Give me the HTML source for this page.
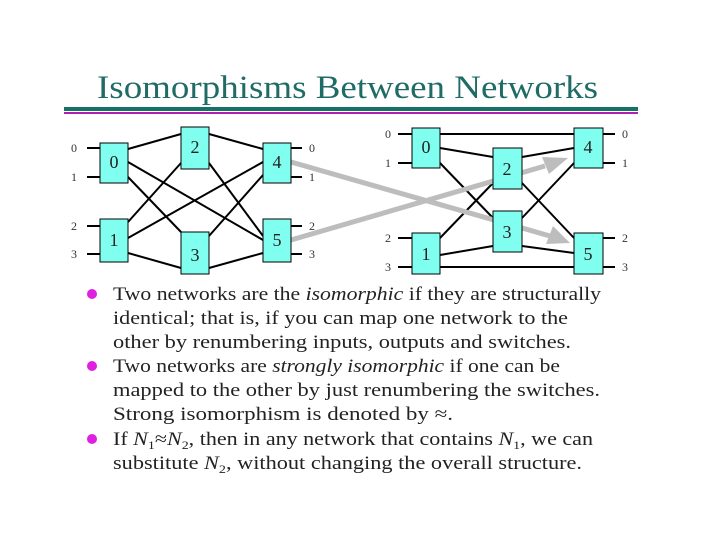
<!DOCTYPE html>
<html><head><style>html,body{margin:0;padding:0;background:#fff;}svg{display:block}</style></head>
<body>
<svg width="720" height="540" viewBox="0 0 720 540" xmlns="http://www.w3.org/2000/svg" font-family="Liberation Serif, serif">
<text x="97" y="98" font-size="33" fill="#1f6b66" textLength="501" lengthAdjust="spacingAndGlyphs">Isomorphisms Between Networks</text>
<rect x="64" y="107" width="574" height="4" fill="#16706c"/>
<rect x="64" y="112" width="574" height="2" fill="#b020b0"/>
<g stroke="#000" stroke-width="2" fill="none">
<!-- left network -->
<line x1="87" y1="148" x2="100" y2="148"/><line x1="87" y1="177" x2="100" y2="177"/>
<line x1="87" y1="226" x2="100" y2="226"/><line x1="87" y1="254" x2="100" y2="254"/>
<line x1="291" y1="148" x2="302" y2="148"/><line x1="291" y1="177" x2="302" y2="177"/>
<line x1="291" y1="226" x2="302" y2="226"/><line x1="291" y1="254" x2="302" y2="254"/>
<line x1="128" y1="149" x2="181" y2="134"/>
<line x1="128" y1="162" x2="263" y2="240"/>
<line x1="128" y1="177" x2="181" y2="232"/>
<line x1="128" y1="222" x2="181" y2="163"/>
<line x1="128" y1="238" x2="263" y2="162"/>
<line x1="128" y1="253" x2="181" y2="268"/>
<line x1="209" y1="134" x2="263" y2="149"/>
<line x1="209" y1="163" x2="263" y2="236"/>
<line x1="209" y1="236" x2="263" y2="175"/>
<line x1="209" y1="268" x2="263" y2="253"/>
<!-- right network -->
<line x1="398" y1="134" x2="412" y2="134"/><line x1="398" y1="163" x2="412" y2="163"/>
<line x1="398" y1="238" x2="412" y2="238"/><line x1="398" y1="267" x2="412" y2="267"/>
<line x1="603" y1="134" x2="615" y2="134"/><line x1="603" y1="163" x2="615" y2="163"/>
<line x1="603" y1="238" x2="615" y2="238"/><line x1="603" y1="267" x2="615" y2="267"/>
<line x1="440" y1="134" x2="574" y2="134"/>
<line x1="440" y1="148" x2="493" y2="157"/>
<line x1="440" y1="163" x2="493" y2="218"/>
<line x1="440" y1="238" x2="493" y2="183"/>
<line x1="440" y1="255" x2="493" y2="246"/>
<line x1="440" y1="267" x2="574" y2="267"/>
<line x1="522" y1="157" x2="574" y2="148"/>
<line x1="522" y1="183" x2="574" y2="238"/>
<line x1="522" y1="218" x2="574" y2="163"/>
<line x1="522" y1="246" x2="574" y2="253"/>
</g>
<!-- gray arrows -->
<g stroke="#bdbdbd" stroke-width="5" fill="#bdbdbd">
<line x1="291" y1="162" x2="550" y2="236"/>
<line x1="291" y1="240" x2="545" y2="166"/>
</g>
<polygon points="570,243 546,244 553,226" fill="#bdbdbd"/>
<polygon points="568,158 549,174 542,157" fill="#bdbdbd"/>
<g fill="#80fff0" stroke="#000" stroke-width="1">
<rect x="100" y="143" width="28" height="40"/><rect x="100" y="219" width="28" height="43"/>
<rect x="181" y="127" width="28" height="42"/><rect x="181" y="232" width="28" height="42"/>
<rect x="263" y="143" width="28" height="40"/><rect x="263" y="219" width="28" height="43"/>
<rect x="412" y="128" width="28" height="40"/><rect x="412" y="233" width="28" height="41"/>
<rect x="493" y="148" width="29" height="41"/><rect x="493" y="211" width="29" height="41"/>
<rect x="574" y="128" width="29" height="40"/><rect x="574" y="233" width="29" height="41"/>
</g>
<g font-size="18" fill="#222" text-anchor="middle">
<text x="114" y="168">0</text><text x="114" y="246">1</text>
<text x="195" y="153">2</text><text x="195" y="261">3</text>
<text x="277" y="168">4</text><text x="277" y="246">5</text>
<text x="426" y="153">0</text><text x="426" y="260">1</text>
<text x="507" y="175">2</text><text x="507" y="238">3</text>
<text x="588" y="153">4</text><text x="588" y="260">5</text>
</g>
<g font-size="12" fill="#333" text-anchor="middle">
<text x="74" y="152">0</text><text x="74" y="181">1</text><text x="74" y="230">2</text><text x="74" y="258">3</text>
<text x="312" y="152">0</text><text x="312" y="181">1</text><text x="312" y="230">2</text><text x="312" y="258">3</text>
<text x="388" y="138">0</text><text x="388" y="167">1</text><text x="388" y="242">2</text><text x="388" y="271">3</text>
<text x="625" y="138">0</text><text x="625" y="167">1</text><text x="625" y="242">2</text><text x="625" y="271">3</text>
</g>
<g fill="#e020e0"><circle cx="92" cy="294" r="5"/><circle cx="92" cy="366" r="5"/><circle cx="92" cy="439" r="5"/></g>
<g font-size="19" fill="#222">
<text x="113" y="300" textLength="488" lengthAdjust="spacingAndGlyphs">Two networks are the <tspan font-style="italic">isomorphic</tspan> if they are structurally</text>
<text x="113" y="324" textLength="455" lengthAdjust="spacingAndGlyphs">identical; that is, if you can map one network to the</text>
<text x="113" y="348" textLength="458" lengthAdjust="spacingAndGlyphs">other by renumbering inputs, outputs and switches.</text>
<text x="113" y="372" textLength="447" lengthAdjust="spacingAndGlyphs">Two networks are <tspan font-style="italic">strongly isomorphic</tspan> if one can be</text>
<text x="113" y="396" textLength="487" lengthAdjust="spacingAndGlyphs">mapped to the other by just renumbering the switches.</text>
<text x="113" y="420" textLength="340" lengthAdjust="spacingAndGlyphs">Strong isomorphism is denoted by ≈.</text>
<text x="113" y="445" textLength="480" lengthAdjust="spacingAndGlyphs">If <tspan font-style="italic">N</tspan><tspan font-size="12" dy="4">1</tspan><tspan dy="-4">≈</tspan><tspan font-style="italic">N</tspan><tspan font-size="12" dy="4">2</tspan><tspan dy="-4">, then in any network that contains </tspan><tspan font-style="italic">N</tspan><tspan font-size="12" dy="4">1</tspan><tspan dy="-4">, we can</tspan></text>
<text x="113" y="469" textLength="469" lengthAdjust="spacingAndGlyphs">substitute <tspan font-style="italic">N</tspan><tspan font-size="12" dy="4">2</tspan><tspan dy="-4">, without changing the overall structure.</tspan></text>
</g>
</svg>
</body></html>
